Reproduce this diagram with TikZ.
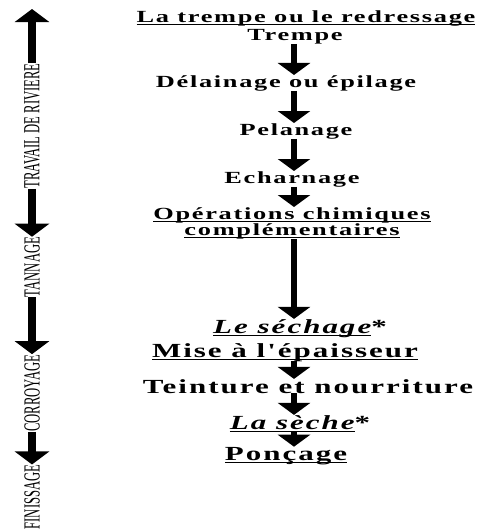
\documentclass[tikz,border=0pt]{standalone}
\usepackage{fontspec}
\setmainfont{Liberation Serif}
\usetikzlibrary{arrows.meta}
\newfontfamily\stepfont[FakeStretch=1.55,LetterSpace=10]{Liberation Serif}
\newfontfamily\sidefont[FakeStretch=0.55]{Liberation Serif}
\newcommand{\stepline}[1]{\setbox0\hbox{#1}\rlap{\rule[-3pt]{\wd0}{1.3pt}}\box0}

\begin{document}
\begin{tikzpicture}[x=1pt,y=-1pt]
\tikzstyle{stepbox}=[anchor=base,inner sep=0pt,font=\stepfont\bfseries\fontsize{17}{13}\selectfont]
\tikzstyle{bigstep}=[stepbox,font=\stepfont\bfseries\fontsize{20}{21}\selectfont]
\tikzstyle{phase}=[rotate=90,inner sep=0pt,font=\sidefont\fontsize{23}{25}\selectfont]
\tikzstyle{arrow}=[line width=6pt,-{Triangle[width=32pt,length=12pt]}]
\tikzstyle{sidearrow}=[line width=8pt,-{Triangle[width=34pt,length=13pt]}]
\useasboundingbox (0,0) rectangle (491,531);

% steps
\node [stepbox] at (306,22) (redress) {\stepline{La trempe ou le redressage}};
\node [stepbox] at (295,40) (trempe) {Trempe};
\node [stepbox] at (286,87) (delain) {Délainage ou épilage};
\node [stepbox] at (296,135) (pelan) {Pelanage};
\node [stepbox] at (292,183) (echarn) {Echarnage};
\node [stepbox,align=center,anchor=north] at (292,207) (chimie) {\stepline{Opérations chimiques}\\\stepline{complémentaires}};
\node [bigstep] at (300,333) (sechage) {\stepline{\itshape Le séchage}*};
\node [bigstep] at (285,357) (mise) {\stepline{Mise à l'épaisseur}};
\node [bigstep] at (308,393) (teint) {Teinture et nourriture};
\node [bigstep] at (300,429) (seche) {\stepline{\itshape La sèche}*};
\node [bigstep] at (286,460) (poncage) {\stepline{Ponçage}};

\coordinate (axis) at (294,0);
\draw [arrow] (trempe.south -| axis) -- (delain.north -| axis);
\draw [arrow] (delain.south -| axis) -- (pelan.north -| axis);
\draw [arrow] (pelan.south -| axis) -- (echarn.north -| axis);
\draw [arrow] (echarn.south -| axis) -- (chimie.north -| axis);
\draw [arrow] (chimie.south -| axis) -- (sechage.north -| axis);
\draw [arrow] (mise.south -| axis) -- (teint.north -| axis);
\draw [arrow] (teint.south -| axis) -- (seche.north -| axis);
\draw [arrow] (seche.south -| axis) -- (poncage.north -| axis);

% phases
\node [phase] at (32,126) (travail) {TRAVAIL DE RIVIERE};
\node [phase] at (32,267) (tannage) {TANNAGE};
\node [phase] at (32,393) (corroy) {CORROYAGE};
\node [phase] at (32,497) (finiss) {FINISSAGE};
\coordinate (sidetop) at (32,9);

\draw [sidearrow] (travail) -- (sidetop);
\draw [sidearrow] (travail) -- (tannage);
\draw [sidearrow] (tannage) -- (corroy);
\draw [sidearrow] (corroy) -- (finiss);
\end{tikzpicture}
\end{document}
